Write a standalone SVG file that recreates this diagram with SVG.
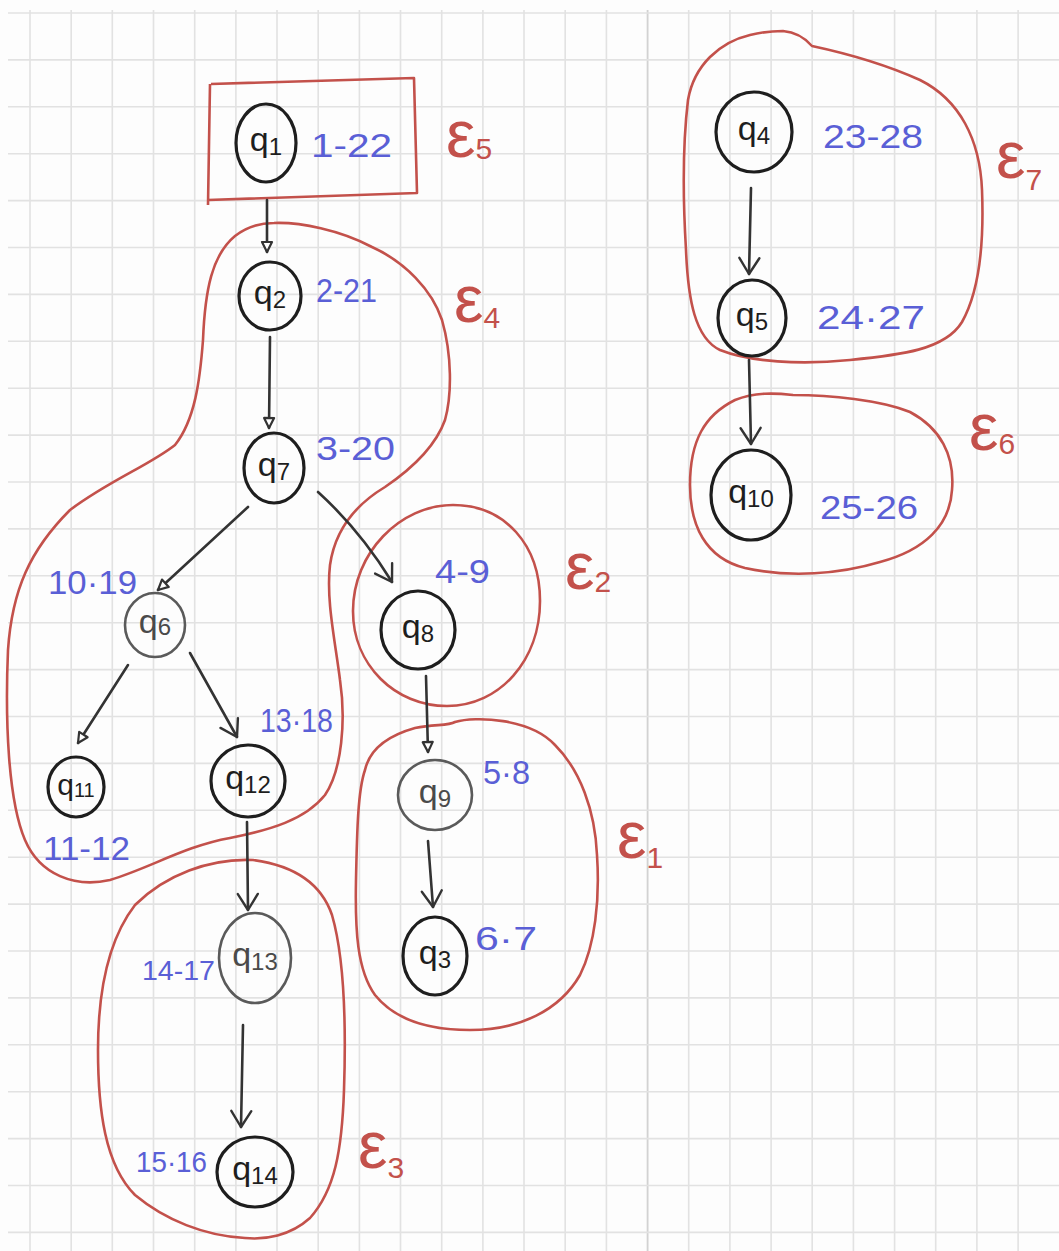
<svg xmlns="http://www.w3.org/2000/svg" width="1059" height="1251" viewBox="0 0 1059 1251">
<style>
.grid{stroke:#e2e2e2;stroke-width:1.6;fill:none}
.node ellipse{fill:none;stroke:#1e1e1e;stroke-width:3.2}
.node.light ellipse{stroke:#5a5a5a;stroke-width:2.6}
.qt{font-family:"Liberation Sans","DejaVu Sans",sans-serif;font-size:34px;fill:#1e1e1e;text-anchor:middle}
.light .qt{fill:#4a4a4a}
.qs{font-size:24px}
.num{font-family:"Liberation Sans","DejaVu Sans",sans-serif;font-size:33px;fill:#5a5fd6}
.grp{fill:none;stroke:#c3514b;stroke-width:2.6;stroke-linejoin:round}
.eps{font-family:"Liberation Sans","DejaVu Sans",sans-serif;font-size:66px;fill:#c3514b}
.es{font-size:30px}
.edge{fill:none;stroke:#333;stroke-width:2.6;stroke-linecap:round}
.tri{marker-end:url(#tri)}
.vee{marker-end:url(#vee)}
</style>
<defs>
<marker id="tri" viewBox="0 0 14 14" refX="12" refY="7" markerWidth="14" markerHeight="14" markerUnits="userSpaceOnUse" orient="auto"><path d="M2,2 L12,7 L2,12 Z" fill="#fff" stroke="#333" stroke-width="2.2" stroke-linejoin="round"/></marker>
<marker id="vee" viewBox="0 0 20 24" refX="18" refY="12" markerWidth="20" markerHeight="24" markerUnits="userSpaceOnUse" orient="auto"><path d="M2,2 L18,12 L2,22" fill="none" stroke="#333" stroke-width="2.4" stroke-linecap="round" stroke-linejoin="round"/></marker>
</defs>
<rect width="1059" height="1251" fill="#fdfdfd"/>
<g id="grid">
<path class="grid" d="M30,10V1251M71.2,10V1251M112.3,10V1251M153.5,10V1251M194.7,10V1251M235.9,10V1251M277,10V1251M318.2,10V1251M359.4,10V1251M400.5,10V1251M441.7,10V1251M482.9,10V1251M524,10V1251M565.2,10V1251M606.4,10V1251M688.7,10V1251M729.9,10V1251M771.1,10V1251M812.2,10V1251M853.4,10V1251M894.6,10V1251M935.7,10V1251M976.9,10V1251M1018.1,10V1251"/>
<path d="M647.6,10V1251" stroke="#d2d2d2" stroke-width="1.8"/>
<path class="grid" d="M8,13H1059M8,59.9H1059M8,106.8H1059M8,153.7H1059M8,200.6H1059M8,247.5H1059M8,294.4H1059M8,341.3H1059M8,388.2H1059M8,435.1H1059M8,482H1059M8,528.9H1059M8,575.8H1059M8,622.7H1059M8,669.6H1059M8,716.5H1059M8,763.4H1059M8,810.3H1059M8,857.2H1059M8,904.1H1059M8,951H1059M8,997.9H1059M8,1044.8H1059M8,1091.7H1059M8,1138.6H1059M8,1185.5H1059M8,1232.4H1059"/>
</g>
<g id="groups">
<g id="E5"><path class="grp" d="M211,84 L414,78 L417,193 L208,200 M210,84 L208,205"/><text class="eps" x="446" y="157">ε<tspan class="es" dy="2">5</tspan></text></g>
<g id="E4"><path class="grp" d="M274,223 C300,222 340,230 372,247 C405,262 432,290 442,320 C452,355 452,395 445,420 C435,448 410,470 385,487 C355,505 335,530 330,565 C326,600 335,640 340,680 C346,720 342,770 325,795 C305,820 270,830 230,838 C185,846 150,868 110,880 C75,888 40,875 25,840 C8,800 5,720 8,650 C12,590 30,550 70,510 C110,480 150,465 175,445 C195,420 200,380 203,340 C205,290 212,255 235,236 C248,226 262,223 274,223 Z"/><text class="eps" x="454" y="322">ε<tspan class="es" dy="6">4</tspan></text></g>
<g id="E2"><path class="grp" d="M453,505 C505,505 540,545 540,601 C540,660 500,706 447,706 C395,706 353,665 353,611 C353,553 400,505 453,505 Z"/><text class="eps" x="565" y="589">ε<tspan class="es" dy="3">2</tspan></text></g>
<g id="E1"><path class="grp" d="M365,770 C370,748 390,735 415,728 C435,724 448,726 455,722 C475,716 530,718 555,745 C580,770 595,810 597,855 C600,900 595,945 580,975 C560,1010 520,1030 470,1030 C430,1030 395,1020 375,995 C357,970 355,930 356,880 C357,830 358,790 365,770 Z"/><text class="eps" x="617" y="858">ε<tspan class="es" dy="10">1</tspan></text></g>
<g id="E3"><path class="grp" d="M253,860 C290,865 320,880 332,915 C345,960 346,1030 344,1090 C342,1150 335,1190 310,1218 C290,1236 265,1240 245,1238 C205,1236 165,1220 135,1195 C105,1165 98,1110 98,1050 C98,990 108,940 135,905 C165,875 210,858 253,860 Z"/><text class="eps" x="358" y="1168">ε<tspan class="es" dy="10">3</tspan></text></g>
<g id="E6"><path class="grp" d="M793,395 C830,395 880,400 910,412 C940,428 955,455 952,490 C950,525 925,550 880,562 C840,574 790,578 745,568 C705,558 690,525 690,485 C690,440 705,415 735,400 C755,392 775,393 793,395 Z"/><text class="eps" x="969" y="450">ε<tspan class="es" dy="4">6</tspan></text></g>
<g id="E7"><path class="grp" d="M783,31 C795,32 805,38 812,46 C840,52 880,62 920,80 C960,100 980,140 982,190 C984,240 980,290 962,322 C945,350 900,355 850,360 C800,365 750,362 720,350 C695,338 688,300 686,250 C683,200 682,150 688,100 C694,65 720,42 750,35 C762,32 772,31 783,31 Z"/><text class="eps" x="996" y="178">ε<tspan class="es" dy="12">7</tspan></text></g>
</g>
<g id="connectors">
<path class="edge tri" d="M267,200 L267,252"/>
<path class="edge tri" d="M270,337 L269,428"/>
<path class="edge tri" d="M248,507 L158,590"/>
<path class="edge vee" d="M318,492 Q360,530 392,582"/>
<path class="edge tri" d="M128,665 L78,743"/>
<path class="edge vee" d="M190,653 L237,737"/>
<path class="edge tri" d="M426,676 L428,752"/>
<path class="edge vee" d="M428,841 L433,907"/>
<path class="edge vee" d="M247,822 L248,910"/>
<path class="edge vee" d="M243,1025 L241,1127"/>
<path class="edge vee" d="M751,188 L749,274"/>
<path class="edge vee" d="M749,360 L751,444"/>
</g>
<g id="q1" class="node"><ellipse cx="266" cy="143" rx="30" ry="39"/><text class="qt" x="266" y="151">q<tspan class="qs" dy="4">1</tspan></text><text class="num" x="311" y="157" textLength="81" lengthAdjust="spacingAndGlyphs">1-22</text></g>
<g id="q2" class="node"><ellipse cx="270" cy="296" rx="31" ry="34"/><text class="qt" x="270" y="304">q<tspan class="qs" dy="4">2</tspan></text><text class="num" x="316" y="302" textLength="61" lengthAdjust="spacingAndGlyphs">2-21</text></g>
<g id="q7" class="node"><ellipse cx="274" cy="468" rx="30" ry="35"/><text class="qt" x="274" y="476">q<tspan class="qs" dy="4">7</tspan></text><text class="num" x="316" y="460" textLength="79" lengthAdjust="spacingAndGlyphs">3-20</text></g>
<g id="q6" class="node light"><ellipse cx="155" cy="625" rx="30" ry="32"/><text class="qt" x="155" y="633">q<tspan class="qs" dy="2">6</tspan></text><text class="num" x="48" y="594" textLength="89" lengthAdjust="spacingAndGlyphs">10·19</text></g>
<g id="q8" class="node"><ellipse cx="418" cy="630" rx="37" ry="39"/><text class="qt" x="418" y="638">q<tspan class="qs" dy="4">8</tspan></text><text class="num" x="435" y="583" textLength="55" lengthAdjust="spacingAndGlyphs">4-9</text></g>
<g id="q11" class="node"><ellipse cx="76" cy="787" rx="28" ry="30"/><text class="qt" x="76" y="795" style="font-size:30px">q<tspan class="qs" style="font-size:20px" dy="2">11</tspan></text><text class="num" x="43" y="860" textLength="87" lengthAdjust="spacingAndGlyphs">11-12</text></g>
<g id="q12" class="node"><ellipse cx="248" cy="781" rx="37" ry="36"/><text class="qt" x="248" y="789">q<tspan class="qs" dy="4">12</tspan></text><text class="num" x="260" y="732" textLength="73" lengthAdjust="spacingAndGlyphs">13·18</text></g>
<g id="q9" class="node light"><ellipse cx="435" cy="795" rx="37" ry="35"/><text class="qt" x="435" y="803">q<tspan class="qs" dy="4">9</tspan></text><text class="num" x="483" y="784" textLength="47" lengthAdjust="spacingAndGlyphs">5·8</text></g>
<g id="q3" class="node"><ellipse cx="435" cy="956" rx="32" ry="39"/><text class="qt" x="435" y="964">q<tspan class="qs" dy="4">3</tspan></text><text class="num" x="475" y="950" textLength="62" lengthAdjust="spacingAndGlyphs">6·7</text></g>
<g id="q13" class="node light"><ellipse cx="255" cy="958" rx="36" ry="45"/><text class="qt" x="255" y="966">q<tspan class="qs" dy="4">13</tspan></text><text class="num" x="142" y="980" style="font-size:28px" textLength="73" lengthAdjust="spacingAndGlyphs">14-17</text></g>
<g id="q14" class="node"><ellipse cx="255" cy="1172" rx="38" ry="35"/><text class="qt" x="255" y="1180">q<tspan class="qs" dy="4">14</tspan></text><text class="num" x="136" y="1172" style="font-size:30px" textLength="71" lengthAdjust="spacingAndGlyphs">15·16</text></g>
<g id="q4" class="node"><ellipse cx="754" cy="132" rx="38" ry="40"/><text class="qt" x="754" y="140">q<tspan class="qs" dy="4">4</tspan></text><text class="num" x="823" y="148" textLength="100" lengthAdjust="spacingAndGlyphs">23-28</text></g>
<g id="q5" class="node"><ellipse cx="752" cy="318" rx="34" ry="38"/><text class="qt" x="752" y="326">q<tspan class="qs" dy="4">5</tspan></text><text class="num" x="817" y="329" textLength="108" lengthAdjust="spacingAndGlyphs">24·27</text></g>
<g id="q10" class="node"><ellipse cx="751" cy="495" rx="40" ry="45"/><text class="qt" x="751" y="503">q<tspan class="qs" dy="4">10</tspan></text><text class="num" x="820" y="519" textLength="98" lengthAdjust="spacingAndGlyphs">25-26</text></g>
</svg>
